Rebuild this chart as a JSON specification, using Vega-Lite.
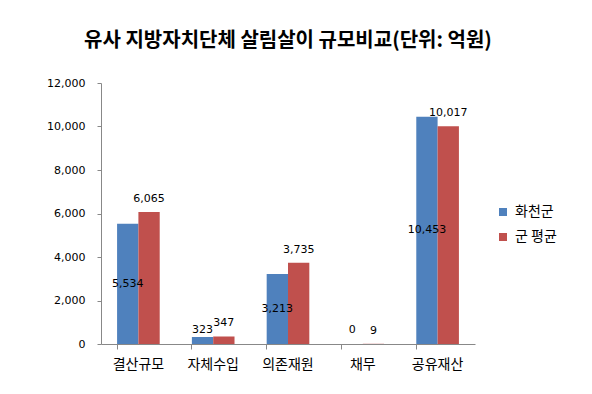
{
  "$schema": "https://vega.github.io/schema/vega-lite/v6.json",
  "width": 374,
  "height": 261,
  "autosize": {"type": "none"},
  "padding": {"left": 101, "top": 83, "right": 117, "bottom": 50},
  "background": "white",
  "title": {
    "text": "유사 지방자치단체 살림살이 규모비교(단위: 억원)",
    "font": "Noto Sans CJK KR",
    "fontSize": 20,
    "fontWeight": "bold",
    "color": "black",
    "anchor": "middle",
    "offset": 26
  },
  "config": {
    "view": {"stroke": null},
    "axisY": {
      "title": null,
      "grid": false,
      "tickSize": 4,
      "tickColor": "#888888",
      "domainColor": "#888888",
      "labelFont": "DejaVu Sans",
      "labelFontSize": 11,
      "labelColor": "black",
      "labelPadding": 12
    }
  },
  "data": {
    "values": [
      {"cat": "결산규모", "s": "화천군", "v": 5534},
      {"cat": "결산규모", "s": "군 평균", "v": 6065},
      {"cat": "자체수입", "s": "화천군", "v": 323},
      {"cat": "자체수입", "s": "군 평균", "v": 347},
      {"cat": "의존재원", "s": "화천군", "v": 3213},
      {"cat": "의존재원", "s": "군 평균", "v": 3735},
      {"cat": "채무", "s": "화천군", "v": 0},
      {"cat": "채무", "s": "군 평균", "v": 9},
      {"cat": "공유재산", "s": "화천군", "v": 10453},
      {"cat": "공유재산", "s": "군 평균", "v": 10017}
    ]
  },
  "encoding": {
    "x": {
      "field": "cat",
      "type": "nominal",
      "sort": ["결산규모", "자체수입", "의존재원", "채무", "공유재산"],
      "scale": {"paddingInner": 0.43, "paddingOuter": 0.215},
      "axis": {
        "title": null,
        "labelAngle": 0,
        "bandPosition": 0,
        "tickSize": 5,
        "tickColor": "#888888",
        "domainColor": "#888888",
        "labelFont": "Noto Sans CJK KR",
        "labelFontSize": 14,
        "labelColor": "black",
        "labelPadding": 8
      }
    },
    "xOffset": {
      "field": "s",
      "type": "nominal",
      "sort": ["화천군", "군 평균"],
      "scale": {"domain": ["화천군", "군 평균"], "paddingInner": 0}
    }
  },
  "layer": [
    {
      "mark": {"type": "bar"},
      "encoding": {
        "y": {
          "field": "v",
          "type": "quantitative",
          "title": null,
          "scale": {"domain": [0, 12000]},
          "axis": {"values": [0, 2000, 4000, 6000, 8000, 10000, 12000], "format": ",.0f"}
        },
        "color": {
          "field": "s",
          "type": "nominal",
          "scale": {"domain": ["화천군", "군 평균"], "range": ["#4F81BD", "#C0504D"]},
          "legend": {
            "title": null,
            "orient": "none",
            "legendX": 395,
            "legendY": 122,
            "symbolType": "square",
            "symbolSize": 64,
            "symbolStrokeWidth": 0,
            "labelFont": "Noto Sans CJK KR",
            "labelFontSize": 14,
            "labelColor": "black",
            "rowPadding": 11,
            "labelOffset": 5
          }
        }
      }
    },
    {
      "transform": [
        {"filter": "datum.s === '화천군'"},
        {"calculate": "max(datum.v / 2, 650)", "as": "ly"}
      ],
      "mark": {"type": "text", "font": "DejaVu Sans", "fontSize": 11, "color": "black", "baseline": "middle"},
      "encoding": {
        "y": {"field": "ly", "type": "quantitative", "title": null, "axis": {"values": [0, 2000, 4000, 6000, 8000, 10000, 12000], "format": ",.0f"}},
        "text": {"field": "v", "type": "quantitative", "format": ","}
      }
    },
    {
      "transform": [{"filter": "datum.s === '군 평균'"}],
      "mark": {"type": "text", "font": "DejaVu Sans", "fontSize": 11, "color": "black", "baseline": "middle", "dy": -13},
      "encoding": {
        "y": {"field": "v", "type": "quantitative", "title": null, "axis": {"values": [0, 2000, 4000, 6000, 8000, 10000, 12000], "format": ",.0f"}},
        "text": {"field": "v", "type": "quantitative", "format": ","}
      }
    }
  ]
}
